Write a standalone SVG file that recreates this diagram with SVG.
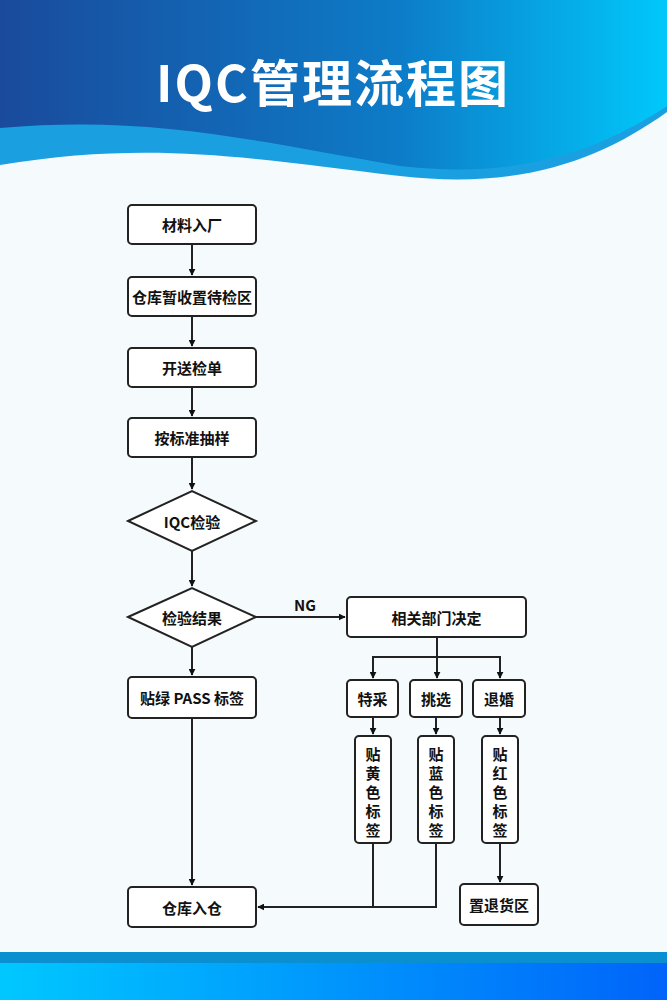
<svg xmlns="http://www.w3.org/2000/svg" width="667" height="1000" viewBox="0 0 667 1000">
<defs>
<linearGradient id="hd" x1="0" y1="0" x2="1" y2="0"><stop offset="0" stop-color="#1a4a9c"/><stop offset="0.6" stop-color="#0d7cc8"/><stop offset="1" stop-color="#00c8fa"/></linearGradient>
<linearGradient id="ft" x1="0" y1="0" x2="1" y2="0"><stop offset="0" stop-color="#00c8ff"/><stop offset="1" stop-color="#0064fa"/></linearGradient>
<marker id="ar" viewBox="0 0 10 10" refX="9" refY="5" markerWidth="7" markerHeight="7" orient="auto" markerUnits="userSpaceOnUse"><path d="M0,0 L10,5 L0,10 z" fill="#111"/></marker>
<style>
.b{fill:#fff;stroke:#222;stroke-width:2}
.t{font-family:"Noto Sans CJK SC","Noto Sans",sans-serif;font-size:15px;font-weight:bold;fill:#111;text-anchor:middle;dominant-baseline:central}
.c{fill:none;stroke:#222;stroke-width:2}
</style>
</defs>
<rect width="667" height="1000" fill="#f5fafd"/>
<path d="M0,0 H667 V112 C600,160 520,190 400,176 C250,158 150,140 0,165 Z" fill="#1aa0e0"/>
<path d="M0,0 H667 V106 C600,150 520,180 400,166 C250,140 150,115 0,128 Z" fill="url(#hd)"/>
<text x="333" y="80" font-family="'Noto Sans CJK SC',sans-serif" font-size="50" font-weight="bold" fill="#fff" text-anchor="middle" dominant-baseline="central" letter-spacing="2">IQC管理流程图</text>
<rect x="0" y="952" width="667" height="48" fill="url(#ft)"/>
<rect x="0" y="952" width="667" height="11" fill="#0a90d0"/>
<g id="connectors">
<path class="c" d="M192,244 V275" marker-end="url(#ar)"/>
<path class="c" d="M192,316 V346" marker-end="url(#ar)"/>
<path class="c" d="M192,387 V416" marker-end="url(#ar)"/>
<path class="c" d="M192,457 V489" marker-end="url(#ar)"/>
<path class="c" d="M192,551 V586" marker-end="url(#ar)"/>
<path class="c" d="M192,647 V675" marker-end="url(#ar)"/>
<path class="c" d="M192,718 V885" marker-end="url(#ar)"/>
<path class="c" d="M256,617 H345" marker-end="url(#ar)"/>
<text x="305" y="604" class="t">NG</text>
<path class="c" d="M437,637 V678" marker-end="url(#ar)"/>
<path class="c" d="M373,678 V657 H500 V678" marker-end="url(#ar)"/>
<path class="c" d="M373,657 V678" marker-end="url(#ar)"/>
<path class="c" d="M373,717 V734" marker-end="url(#ar)"/>
<path class="c" d="M436,717 V734" marker-end="url(#ar)"/>
<path class="c" d="M500,717 V734" marker-end="url(#ar)"/>
<path class="c" d="M500,843 V882" marker-end="url(#ar)"/>
<path class="c" d="M373,843 V907"/>
<path class="c" d="M436,843 V907 H258" marker-end="url(#ar)"/>
</g>
<g id="n1"><rect class="b" x="128" y="205" width="128" height="39" rx="4"/><text class="t" x="192" y="224.5">材料入厂</text></g>
<g id="n2"><rect class="b" x="128" y="277" width="128" height="39" rx="4"/><text class="t" x="192" y="296.5" font-size="13.5">仓库暂收置待检区</text></g>
<g id="n3"><rect class="b" x="128" y="348" width="128" height="39" rx="4"/><text class="t" x="192" y="367.5">开送检单</text></g>
<g id="n4"><rect class="b" x="128" y="418" width="128" height="39" rx="4"/><text class="t" x="192" y="437.5">按标准抽样</text></g>
<g id="n5"><polygon class="b" points="128,521 192,491 256,521 192,551"/><text class="t" x="192" y="521">IQC检验</text></g>
<g id="n6"><polygon class="b" points="128,617 192,588 256,617 192,647"/><text class="t" x="192" y="617">检验结果</text></g>
<g id="n7"><rect class="b" x="128" y="677" width="128" height="41" rx="4"/><text class="t" x="192" y="697.5">贴绿 PASS 标签</text></g>
<g id="n8"><rect class="b" x="128" y="887" width="128" height="40" rx="4"/><text class="t" x="192" y="907">仓库入仓</text></g>
<g id="n9"><rect class="b" x="347" y="597" width="179" height="40" rx="4"/><text class="t" x="436.5" y="617">相关部门决定</text></g>
<g id="n10"><rect class="b" x="347" y="680" width="51" height="37" rx="4"/><text class="t" x="372.5" y="698.5">特采</text></g>
<g id="n11"><rect class="b" x="410" y="680" width="52" height="37" rx="4"/><text class="t" x="436" y="698.5">挑选</text></g>
<g id="n12"><rect class="b" x="473" y="680" width="52" height="37" rx="4"/><text class="t" x="499" y="698.5">退婚</text></g>
<g id="n13"><rect class="b" x="355" y="736" width="36" height="107" rx="4"/><text class="t" x="373" y="753">贴</text><text class="t" x="373" y="772">黄</text><text class="t" x="373" y="791">色</text><text class="t" x="373" y="810">标</text><text class="t" x="373" y="829">签</text></g>
<g id="n14"><rect class="b" x="418" y="736" width="36" height="107" rx="4"/><text class="t" x="436" y="753">贴</text><text class="t" x="436" y="772">蓝</text><text class="t" x="436" y="791">色</text><text class="t" x="436" y="810">标</text><text class="t" x="436" y="829">签</text></g>
<g id="n15"><rect class="b" x="482" y="736" width="36" height="107" rx="4"/><text class="t" x="500" y="753">贴</text><text class="t" x="500" y="772">红</text><text class="t" x="500" y="791">色</text><text class="t" x="500" y="810">标</text><text class="t" x="500" y="829">签</text></g>
<g id="n16"><rect class="b" x="460" y="884" width="78" height="41" rx="4"/><text class="t" x="499" y="904.5">置退货区</text></g>
</svg>
